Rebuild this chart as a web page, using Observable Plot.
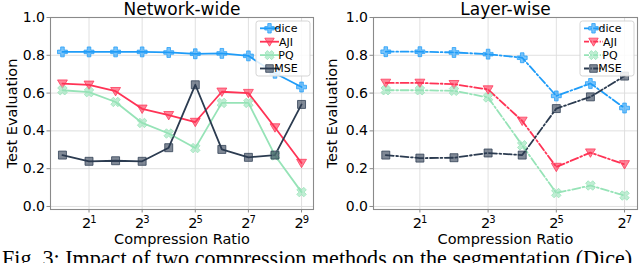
<!DOCTYPE html>
<html>
<head>
<meta charset="utf-8">
<script src="https://cdn.jsdelivr.net/npm/d3@7"></script>
<script src="https://cdn.jsdelivr.net/npm/@observablehq/plot@0.6"></script>
<style>
  html, body { margin: 0; padding: 0; background: #fff; }
  #wrap { position: relative; width: 640px; height: 263px; overflow: hidden; background: #fff; }
  #panels { position: absolute; left: 0; top: 0; display: flex; }
  #panels svg, #panels svg text { font-family: "DejaVu Sans", sans-serif !important; }
  #caption { position: absolute; left: 2px; top: 248px; white-space: nowrap;
    font-family: "Liberation Serif", "DejaVu Serif", serif; font-size: 22.1px; line-height: 22px; color: #000; }
</style>
</head>
<body>
<div id="wrap">
  <div id="panels"></div>
  <div id="caption">Fig. 3: Impact of two compression methods on the segmentation (Dice)</div>
</div>
<script>
// ---- data ----
const seriesNames = ["dice", "AJI", "PQ", "MSE"];
const seriesColors = ["#1f9cf8", "#ff3355", "#96e3b7", "#2b3b50"];

const netRatios = [1, 2, 4, 8, 16, 32, 64, 128, 256, 512];
const netDice = [0.818, 0.818, 0.818, 0.818, 0.815, 0.808, 0.810, 0.797, 0.705, 0.632];
const netAJI  = [0.650, 0.644, 0.610, 0.517, 0.483, 0.447, 0.607, 0.600, 0.418, 0.230];
const netPQ   = [0.615, 0.605, 0.553, 0.442, 0.386, 0.309, 0.548, 0.548, 0.270, 0.076];
const netMSE  = [0.272, 0.239, 0.242, 0.239, 0.311, 0.644, 0.302, 0.260, 0.272, 0.540];

const layerRatios = [1, 2, 4, 8, 16, 32, 64, 128];
const layerDice = [0.819, 0.819, 0.815, 0.806, 0.787, 0.585, 0.651, 0.521];
const layerAJI  = [0.654, 0.654, 0.647, 0.619, 0.453, 0.209, 0.285, 0.223];
const layerPQ   = [0.615, 0.615, 0.612, 0.577, 0.324, 0.071, 0.111, 0.058];
const layerMSE  = [0.272, 0.256, 0.258, 0.283, 0.272, 0.518, 0.580, 0.690];

const netTicks = [2, 8, 32, 128, 512];
const layerTicks = [2, 8, 32, 128];
const tickBase = "2";
const tickExponents = {2: "1", 8: "3", 32: "5", 128: "7", 512: "9"};
const yTicks = [0, 0.2, 0.4, 0.6, 0.8, 1.0];

// ---- symbols ----
const plusSym = {draw(c, size) {
  const s = Math.sqrt(size) * 0.62, t = s * 0.36;
  c.moveTo(-t, -s); c.lineTo(t, -s); c.lineTo(t, -t); c.lineTo(s, -t); c.lineTo(s, t); c.lineTo(t, t);
  c.lineTo(t, s); c.lineTo(-t, s); c.lineTo(-t, t); c.lineTo(-s, t); c.lineTo(-s, -t); c.lineTo(-t, -t); c.closePath();
}};
const triDownSym = {draw(c, size) {
  const s = Math.sqrt(size) * 0.62;
  c.moveTo(-s, -s * 0.75); c.lineTo(s, -s * 0.75); c.lineTo(0, s * 0.95); c.closePath();
}};
const xSym = {draw(c, size) {
  const s = Math.sqrt(size) * 0.62, t = s * 0.36;
  const pts = [[-t,-s],[t,-s],[t,-t],[s,-t],[s,t],[t,t],[t,s],[-t,s],[-t,t],[-s,t],[-s,-t],[-t,-t]];
  const a = Math.PI / 4, ca = Math.cos(a), sa = Math.sin(a);
  pts.forEach(([x, y], i) => { const X = x * ca - y * sa, Y = x * sa + y * ca; i ? c.lineTo(X, Y) : c.moveTo(X, Y); });
  c.closePath();
}};
const squareSym = {draw(c, size) {
  const s = Math.sqrt(size) * 0.5;
  c.rect(-s, -s, 2 * s, 2 * s);
}};
const seriesSymbols = [plusSym, triDownSym, xSym, squareSym];
const FONT = "DejaVu Sans";

function rowsOf(ratios, arrays) {
  const rows = [];
  seriesNames.forEach((name, k) => ratios.forEach((r, i) => rows.push({series: name, ratio: r, value: arrays[k][i]})));
  return rows;
}

function panel({title, ratios, arrays, ticks, xDomain, marginLeft, marginRight, dash}) {
  const rows = rowsOf(ratios, arrays);
  const lineMarks = seriesNames.map((name, k) => Plot.line(rows.filter(d => d.series === name), {
    x: "ratio", y: "value", stroke: seriesColors[k], strokeWidth: 1.8, strokeDasharray: dash
  }));
  const dotMarks = seriesNames.map((name, k) => Plot.dot(rows.filter(d => d.series === name), {
    x: "ratio", y: "value", symbol: seriesSymbols[k], r: 4.5,
    fill: seriesColors[k], fillOpacity: 0.6, stroke: seriesColors[k], strokeOpacity: 0.75, strokeWidth: 1
  }));
  const svg = Plot.plot({
    width: 320, height: 250,
    marginLeft, marginRight, marginTop: 17, marginBottom: 41,
    style: {fontFamily: FONT, fontSize: "14px", background: "transparent", color: "#000"},
    x: {type: "log", base: 2, domain: xDomain},
    y: {domain: [-0.016, 1.0]},
    marks: [
      Plot.gridY(yTicks, {stroke: "#dcdcdc", strokeOpacity: 1, strokeWidth: 0.9}),
      Plot.gridX(ticks, {stroke: "#dcdcdc", strokeOpacity: 1, strokeWidth: 0.9}),
      Plot.frame({stroke: "#8a8a8a", strokeWidth: 1.1}),
      Plot.axisY(yTicks, {tickSize: 3.5, tickPadding: 2, stroke: "#8a8a8a", tickFormat: d3.format(".1f"), label: null, fontSize: 14, fontFamily: FONT}),
      Plot.axisX(ticks, {tickSize: 3.5, tickPadding: 3, stroke: "#8a8a8a", tickFormat: () => "", label: null}),
      Plot.text(ticks, {x: d => d, frameAnchor: "bottom", text: () => tickBase, dx: -2.5, dy: 14, lineAnchor: "middle", fontSize: 14.5, fontFamily: FONT, fill: "#000"}),
      Plot.text(ticks, {x: d => d, frameAnchor: "bottom", text: d => tickExponents[d], dx: 4.3, dy: 10, lineAnchor: "middle", fontSize: 10, fontFamily: FONT, fill: "#000"}),
      ...lineMarks,
      ...dotMarks,
      Plot.text([title], {frameAnchor: "top", dy: -7.5, lineAnchor: "middle", fontSize: 17, fontFamily: FONT, fill: "#000"}),
      Plot.text(["Compression Ratio"], {frameAnchor: "bottom", dy: 29.5, lineAnchor: "middle", fontSize: 14.5, fontFamily: FONT, fill: "#000"}),
      Plot.text(["Test Evaluation"], {frameAnchor: "left", dx: -(marginLeft - 12), rotate: -90, textAnchor: "middle", lineAnchor: "middle", fontSize: 14.5, fontFamily: FONT, fill: "#000"})
    ]
  });
  // legend (upper right of the frame)
  const boxW = 54, boxH = 55;
  const boxX = 320 - marginRight - boxW - 3, boxY = 21;
  const g = d3.select(svg).append("g");
  g.append("rect").attr("x", boxX).attr("y", boxY).attr("width", boxW).attr("height", boxH)
    .attr("rx", 2.5).attr("fill", "#fff").attr("fill-opacity", 0.85).attr("stroke", "#d0d0d0").attr("stroke-width", 0.9);
  seriesNames.forEach((name, k) => {
    const yy = boxY + 7.3 + k * 13.4;
    g.append("line").attr("x1", boxX + 4).attr("x2", boxX + 23).attr("y1", yy).attr("y2", yy)
      .attr("stroke", seriesColors[k]).attr("stroke-width", 1.8).attr("stroke-dasharray", dash ? "5,1.5,1.2,1.5" : null);
    const p = d3.path(); seriesSymbols[k].draw(p, Math.PI * 4.3 * 4.3);
    g.append("path").attr("d", p.toString()).attr("transform", `translate(${boxX + 13.5},${yy})`)
      .attr("fill", seriesColors[k]).attr("fill-opacity", 0.6).attr("stroke", seriesColors[k]).attr("stroke-opacity", 0.75);
    g.append("text").attr("x", boxX + 30).attr("y", yy).attr("dy", "0.35em")
      .attr("font-family", FONT).attr("font-size", 11).attr("fill", "#000").text(name);
  });
  return svg;
}

const panels = document.getElementById("panels");
panels.append(panel({
  title: "Network-wide", ratios: netRatios, arrays: [netDice, netAJI, netPQ, netMSE],
  ticks: netTicks, xDomain: [2 ** -0.45, 2 ** 9.45], marginLeft: 50, marginRight: 7, dash: null
}));
panels.append(panel({
  title: "Layer-wise", ratios: layerRatios, arrays: [layerDice, layerAJI, layerPQ, layerMSE],
  ticks: layerTicks, xDomain: [2 ** -0.36, 2 ** 7.38], marginLeft: 53, marginRight: 3, dash: "8,2.5,1.8,2.5"
}));
</script>
</body>
</html>
